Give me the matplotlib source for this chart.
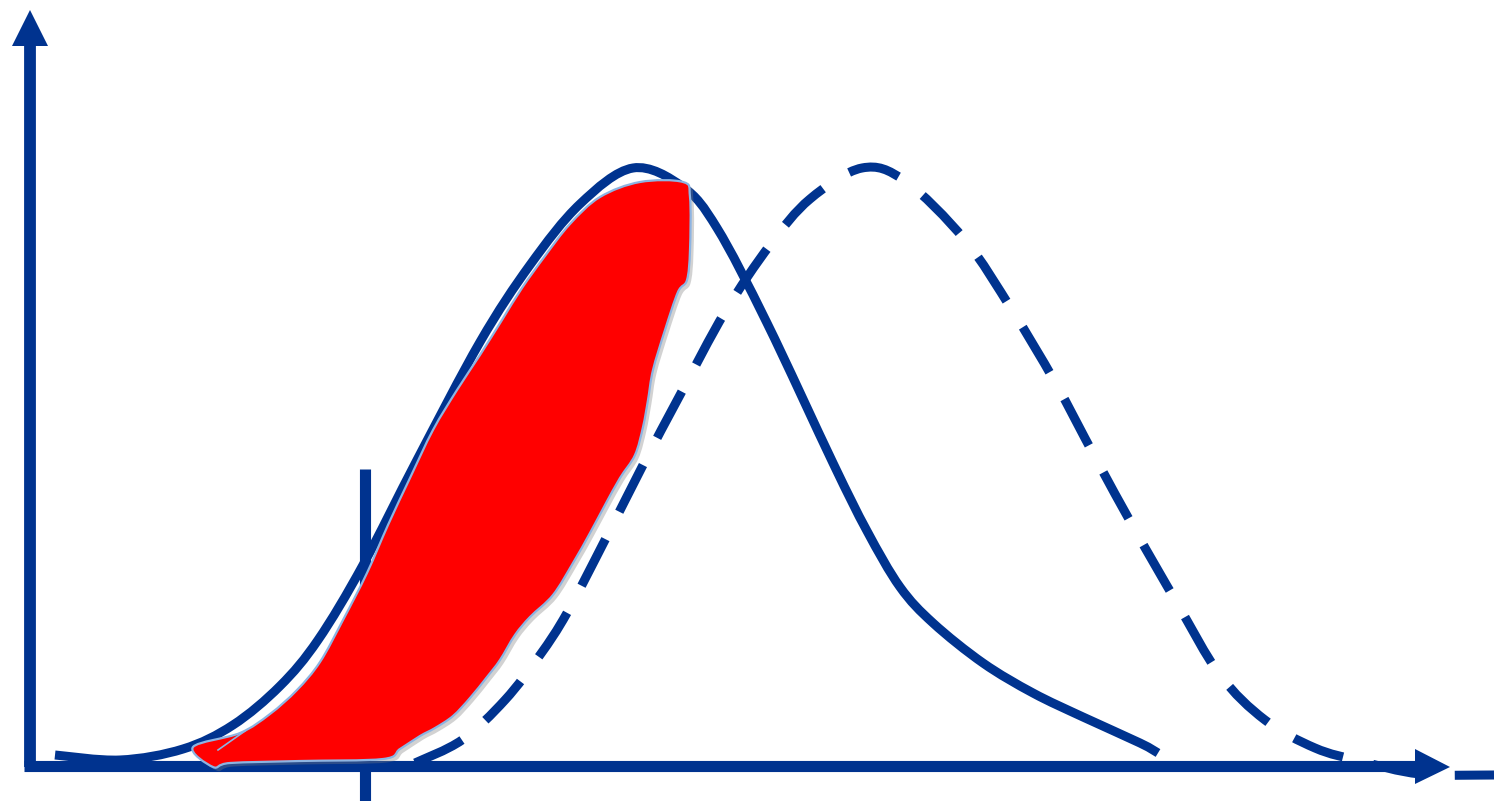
import matplotlib
matplotlib.use("Agg")
import matplotlib.pyplot as plt
import matplotlib.patheffects as pe
from matplotlib.patches import Polygon, PathPatch
from matplotlib.path import Path

# All coordinates are in image pixels (x right, y down).
BLUE = "#00338F"
RED = "#FF0000"
EDGE = "#8DB4E2"

# axes: shaft ends and arrow heads
y_axis_x = [30, 30]
y_axis_y = [767, 44]
y_head = [(12, 46), (30, 10), (48, 46)]
x_axis_x = [24, 1420]
x_axis_y = [766, 766]
x_head = [(1415, 749), (1450, 767), (1415, 784)]

# marker on the x axis
tick_x = [365, 365]
tick_y = [469, 801]

# solid curve
solid_x = [55, 120, 183, 233, 280, 318, 363, 417, 480, 530, 580, 633, 683, 717,
           767, 833, 867, 900, 933, 983, 1033, 1083, 1140, 1158]
solid_y = [755, 760, 749, 725, 686, 640, 565, 460, 342, 265, 204, 168, 187, 228,
           323, 463, 531, 587, 623, 663, 693, 717, 743, 753]

# dashed curve
dash_x = [415, 462, 505, 540, 567, 605, 643, 680, 725, 770, 810, 862, 905, 965,
          1012, 1055, 1095, 1135, 1177, 1220, 1265, 1315, 1360, 1420, 1494]
dash_y = [763, 740, 700, 655, 613, 540, 465, 395, 312, 245, 199, 168, 181, 240,
          310, 382, 457, 530, 603, 675, 720, 748, 761, 774, 775]

# red shaded region outline (left edge up, right edge down, bottom back)
red_x = [193, 240, 270, 297, 320, 343, 367, 388, 410, 433, 457, 480, 502, 522,
         545, 570, 600, 640, 683, 690, 690, 687, 678, 665, 653, 648, 643, 635,
         620, 605, 590, 573, 553, 530, 515, 500, 487, 470, 453, 435, 420, 400,
         383, 300, 230, 213, 193]
red_y = [747, 733, 714, 690, 662, 620, 573, 525, 478, 430, 390, 355, 320, 288,
         256, 224, 197, 182, 182, 197, 250, 280, 292, 330, 370, 400, 427, 455,
         478, 505, 533, 563, 595, 617, 635, 660, 677, 698, 716, 728, 736, 749,
         759, 761, 763, 767, 762]
inner_x = [218, 245]
inner_y = [750, 731]


def smooth_path(xs, ys, closed=False):
    # Catmull-Rom through the read points, handed to matplotlib as cubic Beziers
    pts = list(zip(xs, ys))
    n = len(pts)
    verts = [pts[0]]
    codes = [Path.MOVETO]
    last = n if closed else n - 1
    for i in range(last):
        p0 = pts[(i - 1) % n] if (closed or i > 0) else pts[i]
        p1 = pts[i]
        p2 = pts[(i + 1) % n]
        p3 = pts[(i + 2) % n] if (closed or i + 2 < n) else p2
        c1 = (p1[0] + (p2[0] - p0[0]) / 6, p1[1] + (p2[1] - p0[1]) / 6)
        c2 = (p2[0] - (p3[0] - p1[0]) / 6, p2[1] - (p3[1] - p1[1]) / 6)
        verts += [c1, c2, p2]
        codes += [Path.CURVE4] * 3
    if closed:
        verts.append(pts[0])
        codes.append(Path.CLOSEPOLY)
    return Path(verts, codes)


fig = plt.figure(figsize=(14.94, 8.01), dpi=100)
ax = fig.add_axes([0, 0, 1, 1])
ax.set_xlim(0, 1494)
ax.set_ylim(801, 0)
ax.axis("off")

ax.plot(tick_x, tick_y, color=BLUE, lw=8, solid_capstyle="butt", zorder=2)
ax.plot(y_axis_x, y_axis_y, color=BLUE, lw=8.5, solid_capstyle="butt", zorder=2)
ax.plot(x_axis_x, x_axis_y, color=BLUE, lw=8, solid_capstyle="butt", zorder=2)
ax.add_patch(Polygon(y_head, closed=True, color=BLUE, lw=0, zorder=3))

ax.add_patch(PathPatch(smooth_path(solid_x, solid_y), fill=False, edgecolor=BLUE,
                       lw=6.5, capstyle="butt", joinstyle="round", zorder=2))
ax.add_patch(PathPatch(smooth_path(dash_x, dash_y), fill=False, edgecolor=BLUE,
                       lw=6.5, capstyle="butt", linestyle=(0, (5.8, 3.4)), zorder=2))
ax.add_patch(Polygon(x_head, closed=True, color=BLUE, lw=0, zorder=3))

red = PathPatch(smooth_path(red_x[:-1], red_y[:-1], closed=True), facecolor=RED,
                edgecolor=EDGE, lw=1.6, joinstyle="round", zorder=4)
red.set_path_effects([pe.SimplePatchShadow(offset=(2.5, -2.5), shadow_rgbFace="gray",
                                           alpha=0.35), pe.Normal()])
ax.add_patch(red)
ax.plot(inner_x, inner_y, color=EDGE, lw=1.2, zorder=5)

fig.savefig("out.png", dpi=100, facecolor="white")
